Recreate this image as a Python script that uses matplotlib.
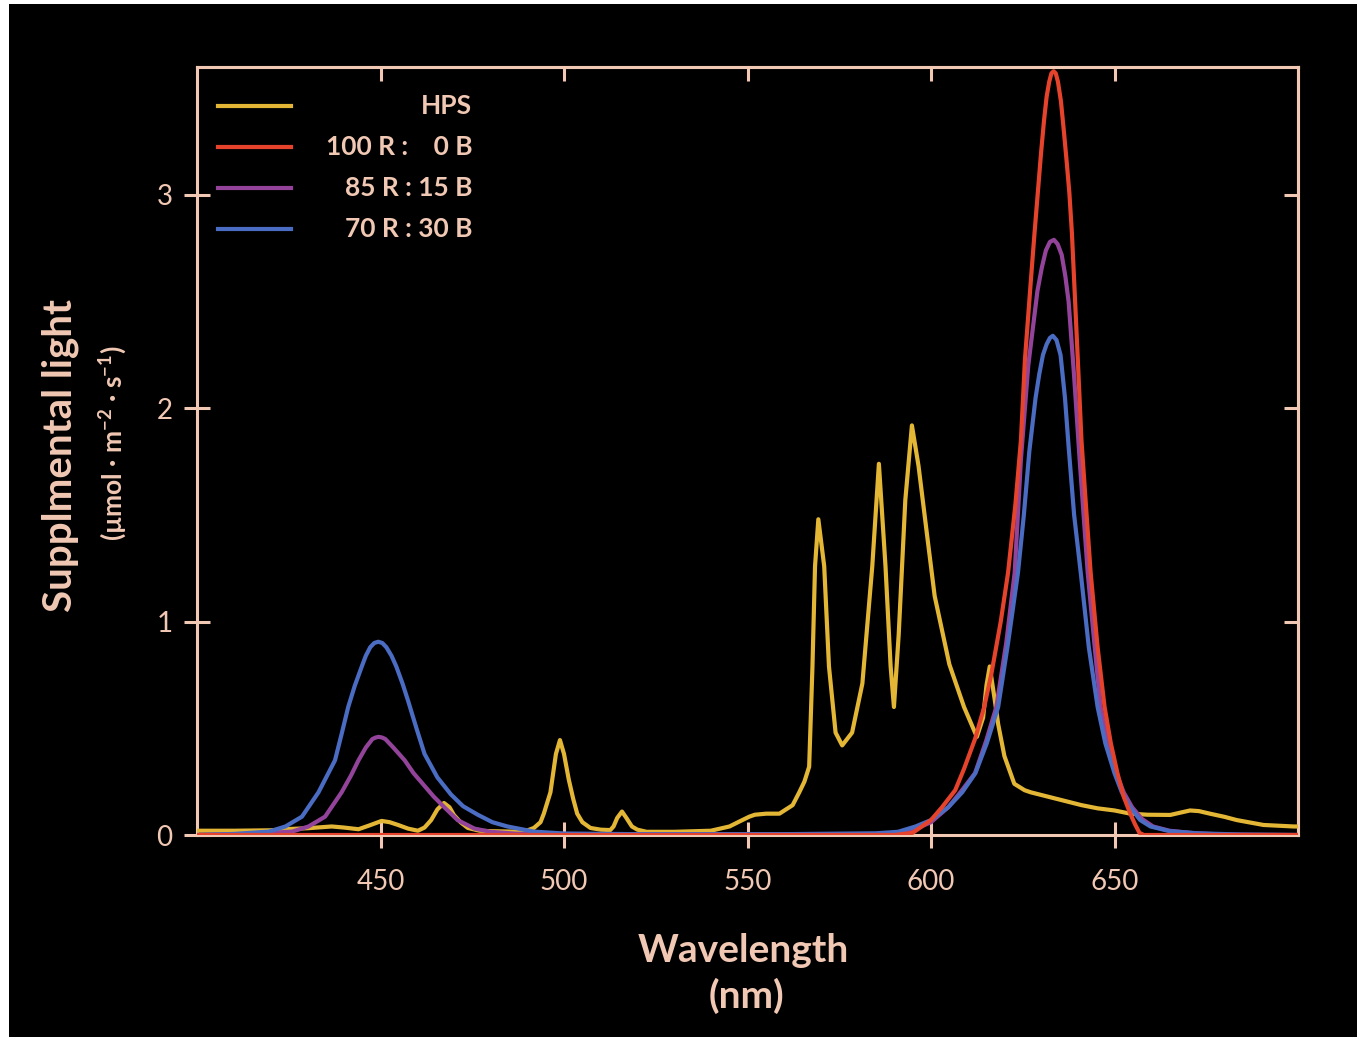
import matplotlib
matplotlib.use('Agg')
import matplotlib.pyplot as plt
from matplotlib.patches import Rectangle

plt.rcParams['font.family'] = ['Lato', 'DejaVu Sans']

# spectra (wavelength nm, supplemental light)
hps_wl = [400, 410, 420, 425, 430.4, 436.7, 440, 444, 447, 450.3, 452.5, 454.8, 457.5, 460.2,
          462, 463.8, 465.5, 467.3, 468.8, 470, 471.8, 473.8, 477, 480, 489, 491.8, 493.6,
          494.5, 496.3, 496.8, 497.8, 498.9, 500, 501.3, 502.5, 503.6, 505, 507.2, 510, 512.6,
          513.5, 514.5, 515.8, 517, 518.5, 520, 522.5, 530, 540, 545.1, 548, 550.5, 552, 555.1,
          558.7, 562.3, 564.1, 565.5, 566.8, 567.7, 568.4, 569.3, 570.9, 572.2, 574, 575.8,
          578.5, 581.3, 584, 585.8, 587.6, 589, 589.9, 591.2, 593, 594.8, 596.6, 598.9, 601,
          605, 609, 612.5, 614.2, 615.1, 616, 617.4, 618.3, 620, 622.7, 625.5, 627.2, 631.8,
          636.4, 641, 645.4, 650, 654.3, 659, 665.2, 668, 670.6, 673, 676, 680, 683.3, 690.6,
          698.8, 700]
hps_val = [0.02, 0.02, 0.022, 0.028, 0.032, 0.04, 0.035, 0.027, 0.045, 0.066, 0.06, 0.047, 0.03,
           0.02, 0.035, 0.07, 0.12, 0.15, 0.13, 0.094, 0.06, 0.033, 0.02, 0.018, 0.015, 0.033,
           0.06, 0.10, 0.2, 0.26, 0.38, 0.445, 0.38, 0.26, 0.17, 0.10, 0.06, 0.033, 0.025, 0.023,
           0.04, 0.08, 0.11, 0.08, 0.04, 0.025, 0.015, 0.015, 0.02, 0.04, 0.065, 0.086, 0.095,
           0.10, 0.10, 0.14, 0.2, 0.25, 0.32, 0.79, 1.26, 1.48, 1.26, 0.79, 0.48, 0.42,
           0.48, 0.71, 1.26, 1.74, 1.26, 0.79, 0.6, 0.94, 1.57, 1.92, 1.73, 1.41, 1.12,
           0.8, 0.6, 0.46, 0.55, 0.70, 0.79, 0.63, 0.52, 0.37, 0.24, 0.21, 0.2, 0.18,
           0.16, 0.14, 0.125, 0.115, 0.10, 0.095, 0.094, 0.105, 0.115, 0.112, 0.10, 0.085, 0.07, 0.047,
           0.04, 0.04]

r100_wl = [400, 590, 595, 600, 603, 606.6, 609, 612, 614.5, 616.5, 619, 621, 623, 624.5, 625.6,
           627.3, 628.2, 629.1, 630, 630.8, 631.5, 632.2, 632.8, 633.4, 634, 634.6, 635.4, 636.2,
           637, 637.7, 638.4, 639, 640, 641, 642.2, 643.5, 645.4, 647.3, 649, 650.8, 652.5,
           654.3, 655.6, 656.8, 658, 700]
r100_val = [0, 0, 0.01, 0.07, 0.13, 0.21, 0.31, 0.45, 0.6, 0.76, 1.0, 1.23, 1.55, 1.85, 2.23,
            2.62, 2.82, 3.01, 3.2, 3.35, 3.46, 3.53, 3.57, 3.58, 3.57, 3.53, 3.44, 3.3,
            3.15, 3.01, 2.82, 2.6, 2.23, 1.85, 1.55, 1.23, 0.88, 0.6, 0.43, 0.29, 0.18,
            0.1, 0.05, 0.01, 0, 0]

r85_wl = [400, 415, 425.9, 430.4, 434.9, 439.4, 442, 444, 446, 447.8, 448.7, 449.5, 450.4, 451.3,
          453.5, 456.6, 459, 462, 464.5, 467.4, 471, 475.6, 480, 487, 495, 590, 596, 600, 604.7,
          608, 612, 615, 617.8, 620.5, 622.8, 624.5, 626.5, 629, 630.2, 631.3, 632.4, 633.5,
          634.5, 635.6, 636.6, 637.5, 639, 640.5, 642.7, 644.5, 646.2, 648.3, 650.5, 652.5,
          654.8, 657.5, 660.5, 665, 672, 680, 700]
r85_val = [0, 0.005, 0.016, 0.04, 0.086, 0.2, 0.28, 0.35, 0.41, 0.45, 0.457, 0.46, 0.457, 0.45,
           0.41, 0.35, 0.29, 0.23, 0.18, 0.13, 0.07, 0.03, 0.015, 0.006, 0.004, 0.004, 0.03, 0.06,
           0.13, 0.2, 0.29, 0.44, 0.6, 0.9, 1.23, 1.76, 2.2, 2.55, 2.66, 2.74, 2.78, 2.79,
           2.77, 2.72, 2.62, 2.5, 2.15, 1.76, 1.23, 0.9, 0.6, 0.42, 0.29, 0.2,
           0.13, 0.075, 0.04, 0.02, 0.008, 0.002, 0]

r70_wl = [400, 410, 419.6, 424.1, 428.6, 433.1, 437.6, 439.5, 441.2, 443, 444.9, 446, 447.2,
          448.3, 449.4, 450.5, 451.6, 453, 454.3, 456, 457.5, 459.8, 462, 465.5, 469.2, 472.5,
          476.5, 480.5, 484.6, 491.8, 500, 520, 560, 585, 591, 595.8, 600, 604.7, 608.5, 612.1,
          615.2, 618.3, 621, 623.7, 625.3, 626.8, 628.5, 629.5, 630.5, 631.5, 632.4, 633.2,
          634.2, 635.3, 636.5, 637.5, 639, 640.8, 643, 645.4, 647.5, 650, 652, 654.3, 657,
          659.8, 665, 672.5, 685, 700]
r70_val = [0, 0.005, 0.016, 0.04, 0.086, 0.2, 0.35, 0.48, 0.6, 0.7, 0.79, 0.84, 0.88,
           0.9, 0.906, 0.9, 0.88, 0.84, 0.79, 0.71, 0.63, 0.5, 0.38, 0.27, 0.19, 0.135,
           0.095, 0.06, 0.04, 0.016, 0.007, 0.004, 0.004, 0.008, 0.015, 0.04, 0.07, 0.13, 0.2, 0.29,
           0.43, 0.6, 0.9, 1.23, 1.5, 1.8, 2.05, 2.16, 2.25, 2.3, 2.33, 2.34,
           2.32, 2.25, 2.05, 1.82, 1.5, 1.23, 0.88, 0.6, 0.43, 0.29, 0.2, 0.13, 0.07,
           0.04, 0.018, 0.008, 0.002, 0]

labels = ['HPS', '100 R :    0 B', '85 R : 15 B', '70 R : 30 B']
colors = ['#e3b735', '#e5432c', '#93449a', '#4a6cc2']
x_ticks = [450, 500, 550, 600, 650]
y_ticks = [0, 1, 2, 3]

peach = '#f1c8b3'

fig = plt.figure(figsize=(13.57, 10.37), dpi=100)
fig.patch.set_facecolor('white')
fig.patches.append(Rectangle((9 / 1357, 0), 1, 1 - 4 / 1037, transform=fig.transFigure,
                             facecolor='black', edgecolor='none', zorder=-10))

ax = fig.add_axes([197 / 1357, 1 - 835 / 1037, 1101 / 1357, 768 / 1037])
ax.set_facecolor('black')

series = [(hps_wl, hps_val), (r100_wl, r100_val), (r85_wl, r85_val), (r70_wl, r70_val)]
draw_order = [0, 2, 3, 1]
for i in draw_order:
    wl, val = series[i]
    ax.plot(wl, val, color=colors[i], lw=3, zorder=3, solid_joinstyle='round')

ax.set_xlim(400, 700)
ax.set_ylim(0, 3.6)

for s in ax.spines.values():
    s.set_color(peach)
    s.set_linewidth(2.2)

ax.set_xticks(x_ticks)
ax.set_yticks(y_ticks)
ax.tick_params(axis='x', direction='inout', length=19, width=2.2, color=peach,
               labelcolor=peach, labelsize=20, pad=15, top=False)
ax.tick_params(axis='y', direction='inout', length=19, width=2.2, color=peach,
               labelcolor=peach, labelsize=20, pad=8, right=False)

top = ax.secondary_xaxis('top')
top.set_xticks(x_ticks)
top.tick_params(direction='in', length=10, width=2.2, color=peach, labeltop=False)
top.spines['top'].set_color(peach)
top.spines['top'].set_linewidth(2.2)
right = ax.secondary_yaxis('right')
right.set_yticks(y_ticks)
right.tick_params(direction='in', length=10, width=2.2, color=peach, labelright=False)
right.spines['right'].set_color(peach)
right.spines['right'].set_linewidth(2.2)

# legend drawn by hand so the labels sit right-aligned like the original
rows_y = [0.949, 0.896, 0.842, 0.789]
for lab, c, yy in zip(labels, colors, rows_y):
    ax.plot([0.019, 0.085], [yy, yy], color=c, lw=3, transform=ax.transAxes, zorder=4)
    ax.text(0.25, yy, lab, transform=ax.transAxes, ha='right', va='center',
            color=peach, fontsize=19, fontweight='bold')

fig.text(743 / 1357, 1 - 950 / 1037, 'Wavelength', ha='center', va='center',
         color=peach, fontsize=28, fontweight='bold')
fig.text(747 / 1357, 1 - 996 / 1037, '(nm)', ha='center', va='center',
         color=peach, fontsize=28, fontweight='bold')
fig.text(60 / 1357, 1 - 455 / 1037, 'Supplmental light', ha='center', va='center',
         rotation=90, color=peach, fontsize=29, fontweight='bold')
fig.text(113 / 1357, 1 - 443 / 1037,
         r'(µmol · m$^{\mathregular{-2}}$ · s$^{\mathregular{-1}}$)',
         ha='center', va='center', rotation=90, color=peach, fontsize=19, fontweight='bold')

fig.savefig('out.png', dpi=100, facecolor=fig.get_facecolor())
